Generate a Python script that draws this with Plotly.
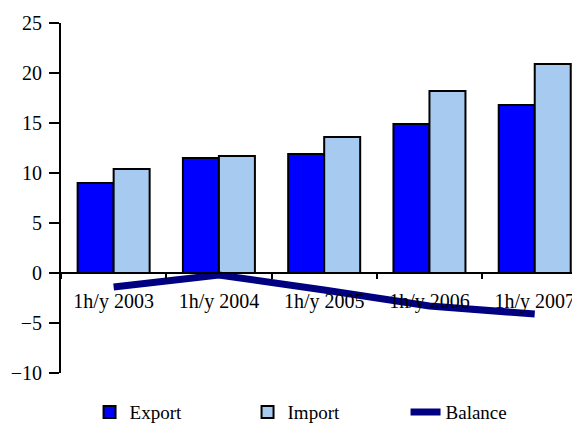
import plotly.graph_objects as go

categories = ["1h/y 2003", "1h/y 2004", "1h/y 2005", "1h/y 2006", "1h/y 2007"]
export_vals = [9.0, 11.5, 11.9, 14.9, 16.8]
import_vals = [10.4, 11.7, 13.6, 18.2, 20.9]
balance_vals = [-1.4, -0.2, -1.7, -3.3, -4.1]
y_ticks = [-10, -5, 0, 5, 10, 15, 20, 25]

FONT = "Liberation Serif, Times New Roman, serif"

fig = go.Figure()
fig.add_trace(go.Bar(x=categories, y=export_vals, name="Export",
                     marker=dict(color="#0000FF", line=dict(color="black", width=2))))
fig.add_trace(go.Bar(x=categories, y=import_vals, name="Import",
                     marker=dict(color="#A6CAF0", line=dict(color="black", width=2))))
fig.add_trace(go.Scatter(x=categories, y=balance_vals, name="Balance", mode="lines",
                         line=dict(color="#000080", width=7)))

# page has an 8px body margin, so the figure is sized to fit the window
fig.update_layout(
    width=572, height=420,
    margin=dict(l=53, r=0, t=15, b=55, autoexpand=False),
    paper_bgcolor="white", plot_bgcolor="white",
    font=dict(family=FONT, size=20, color="black"),
    barmode="group", bargap=0.316, bargroupgap=0,
    showlegend=True,
    legend=dict(orientation="h", x=0.055, y=-0.112, xanchor="left", yanchor="middle",
                font=dict(family=FONT, size=19, color="black"),
                entrywidth=113, entrywidthmode="pixels", traceorder="normal"),
    xaxis=dict(type="category", range=[-0.5, 4.43], tickson="boundaries",
               ticks="outside", ticklen=5, tickwidth=2, tickcolor="black",
               showline=True, linecolor="black", linewidth=2, showgrid=False,
               zeroline=False, anchor="free", position=10/35, ticklabelstandoff=10,
               tickfont=dict(family=FONT, size=20, color="black")),
    yaxis=dict(range=[-10, 25], tickvals=y_ticks, ticks="outside", ticklen=10,
               tickwidth=2, tickcolor="black", showline=True, linecolor="black",
               linewidth=2, showgrid=False, zeroline=False, ticklabelstandoff=3,
               tickfont=dict(family=FONT, size=20, color="black")),
)

fig.write_html("out.html")
